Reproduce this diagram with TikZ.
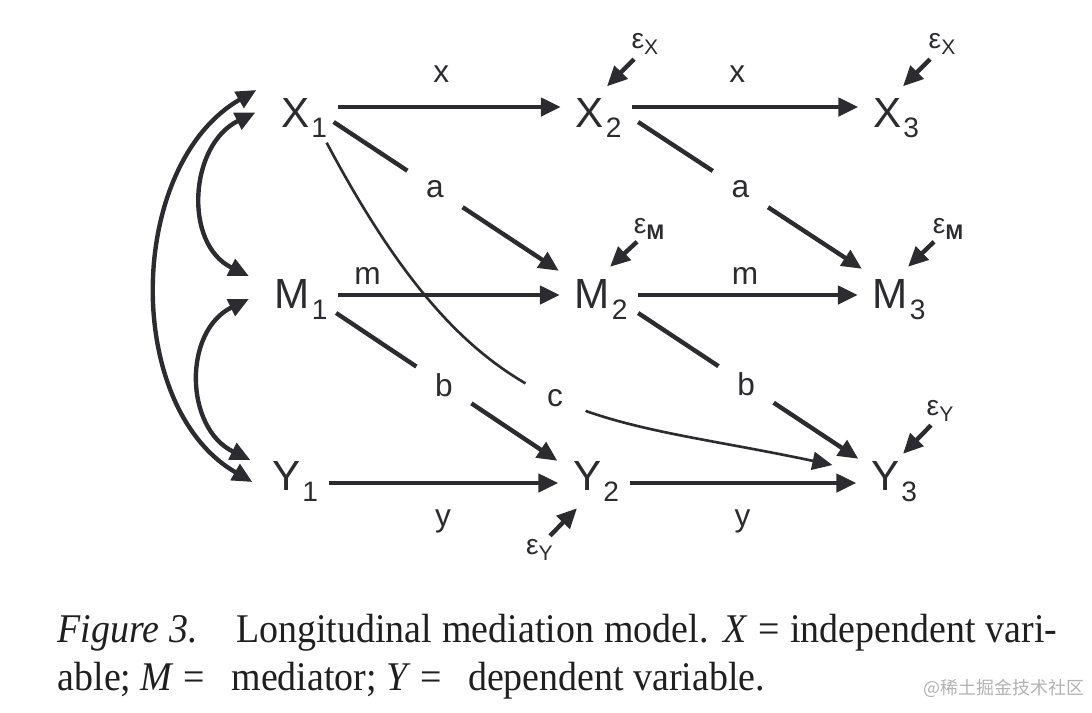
\documentclass[tikz,border=0pt]{standalone}
\usepackage{fontspec}
\setmainfont{Liberation Serif}
\setsansfont{Liberation Sans}
\newfontfamily\cjkfont{Noto Sans CJK SC}
\usetikzlibrary{arrows.meta}
\definecolor{ink}{HTML}{2C2C30}
\newcommand{\sbs}[1]{\kern.6pt\raisebox{-3.1pt}{\fontsize{8}{9}\selectfont #1}}
\newcommand{\eps}[1]{\fontsize{8}{9}\selectfont ε\raisebox{-1.7pt}{\fontsize{6}{7}\selectfont #1}}
\begin{document}
\begin{tikzpicture}[
      var/.style={font=\sffamily\fontsize{12}{14}\selectfont, text=ink, inner sep=0pt, text depth=0pt},
      tag/.style={font=\sffamily\fontsize{9}{11}\selectfont, text=ink, inner sep=0pt},
      gap/.style={tag, circle, fill=white, minimum size=0.66cm},
      err/.style={font=\sffamily, text=ink, inner sep=0pt},
      capline/.style={anchor=base west, inner sep=0pt, font=\fontsize{11.6}{14}\selectfont, text=black!88},
      arr/.style={draw=ink, line width=1.25pt, -{Triangle[length=0.2cm,width=0.18cm]}},
      dbl/.style={draw=ink, line width=1.25pt, {Triangle[length=0.2cm,width=0.18cm]}-{Triangle[length=0.2cm,width=0.18cm]}}]
      \useasboundingbox (0,0) rectangle (10.92,7.12);
      \def \Vars {
         X1/X/1/3.04/5.995,
         X2/X/2/5.985/5.995,
         X3/X/3/8.96/5.995,
         M1/M/1/3.01/4.18,
         M2/M/2/6.01/4.18,
         M3/M/3/8.99/4.18,
         Y1/Y/1/2.95/2.36,
         Y2/Y/2/5.96/2.36,
         Y3/Y/3/8.94/2.36}
      \def \Flows {
         X1/X2/x/.46/south/.22/.055,
         X2/X3/x/.46/south/.22/.055,
         M1/M2/m/.16/south/.08/-.01,
         M2/M3/m/.48/south/.08/-.01,
         Y1/Y2/y/.49/north/-.25/-.07,
         Y2/Y3/y/.49/north/-.25/-.07}
      \def \Slants {
         X1/M2/a/.45/.06/-.095/-.15/.08,
         X2/M3/a/.457/.16/-.095/-.10/.10,
         M1/Y2/b/.487/.08/-.19/-.15/0,
         M2/Y3/b/.49/.10/-.19/-.12/.02}
      \def \Errors {
         eX2/X2/X/6.45/6.68/south/-.11/-.04/north/.085/.11,
         eX3/X3/X/9.42/6.68/south/-.12/-.04/north/.07/.11,
         eM2/M2/\textbf{M}/6.49/4.835/south/-.12/-.02/north/.09/.12,
         eM3/M3/\textbf{M}/9.48/4.835/south/-.14/-.02/north/.09/.12,
         eY3/Y3/Y/9.40/3.01/south/-.09/-.03/north/.09/.07,
         eY2/Y2/Y/5.395/1.62/north/.105/.03/south/-.19/-.17}
      \foreach \n / \l / \s / \x / \y in \Vars {
         \node[var] (\n) at (\x, \y) {\l\sbs{\s}};
      }
      \foreach \u / \v / \l / \p / \an / \o / \dy in \Flows {
         \draw[arr, shorten <=0.1cm, shorten >=0.14cm] ([yshift=\dy cm]\u.east) -- node[tag, pos=\p, anchor=\an, yshift=\o cm] {\l} ([yshift=\dy cm]\v.west);
      }
      \foreach \u / \v / \l / \p / \sx / \sy / \tx / \ty in \Slants {
         \draw[arr] ([shift={(\sx,\sy)}]\u.east) -- node[gap, pos=\p] {\l} ([shift={(\tx,\ty)}]\v.north west);
      }
      % direct path X1 -> Y3
      \draw[arr, line width=0.75pt] ([shift={(-.01,-.15)}]X1.south east) .. controls +(-62:3.3) and +(168:2.5) .. node[gap, pos=.52] {c} ([shift={(-.38,.11)}]Y3.west);
      % correlations at time 1
      \draw[dbl] ([shift={(-.24,.225)}]X1.west) .. controls +(-1.3,-.75) and +(-1.3,.75) .. ([shift={(-.19,-.06)}]Y1.west);
      \draw[dbl] ([xshift=-.25cm]X1.west) .. controls +(-.66,-.32) and +(-.66,.32) .. ([shift={(-.25,.18)}]M1.west);
      \draw[dbl] ([shift={(-.25,-.05)}]M1.west) .. controls +(-.66,-.32) and +(-.66,.32) .. ([shift={(-.21,.16)}]Y1.west);
      \foreach \n / \t / \s / \x / \y / \ea / \sx / \sy / \ta / \tx / \ty in \Errors {
         \node[err] (\n) at (\x, \y) {\eps{\s}};
         \draw[arr] ([shift={(\sx,\sy)}]\n.\ea) -- ([shift={(\tx,\ty)}]\t.\ta);
      }
      \node[capline] (cap1) at (.57,.70) {\scalebox{.93}[1]{\makebox[10.75cm][s]{\textit{Figure 3.}\quad Longitudinal mediation model. \textit{X} = independent vari-}}};
      \node[capline] (cap2) at (.57,.22) {\scalebox{.93}[1]{able; \textit{M} =\hspace{.7em}mediator; \textit{Y} =\hspace{.7em}dependent variable.}};
      \node[anchor=base east, inner sep=0pt, font=\cjkfont\fontsize{5.1}{6}\selectfont, text=black!30] (mark) at (10.85,.18) {@稀土掘金技术社区};
   \end{tikzpicture}
\end{document}
